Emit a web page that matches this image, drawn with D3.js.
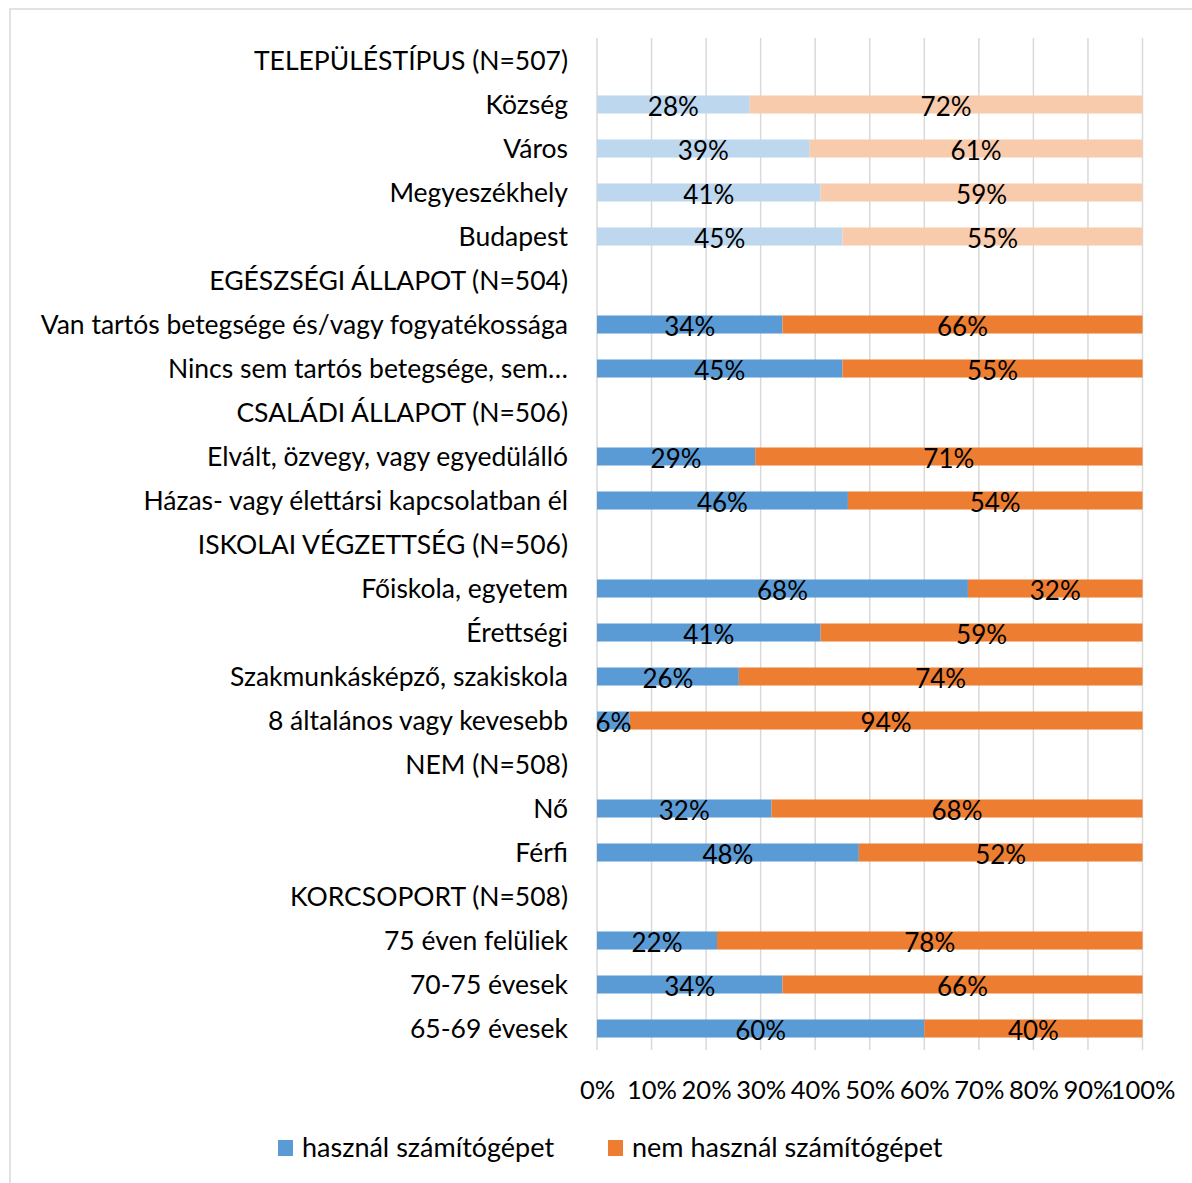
<!DOCTYPE html>
<html><head><meta charset="utf-8">
<script src="https://cdn.jsdelivr.net/npm/d3@7"></script>
<style>body{margin:0;background:#fff}svg{display:block;font-family:Lato,"Open Sans",sans-serif}</style>
</head><body><svg id="c" width="1192" height="1183"></svg>
<script>
const categories = ["TELEPÜLÉSTÍPUS (N=507)","Község","Város","Megyeszékhely","Budapest",
"EGÉSZSÉGI ÁLLAPOT (N=504)","Van tartós betegsége és/vagy fogyatékossága","Nincs sem tartós betegsége, sem…",
"CSALÁDI ÁLLAPOT (N=506)","Elvált, özvegy, vagy egyedülálló","Házas- vagy élettársi kapcsolatban él",
"ISKOLAI VÉGZETTSÉG (N=506)","Főiskola, egyetem","Érettségi","Szakmunkásképző, szakiskola","8 általános vagy kevesebb",
"NEM (N=508)","Nő","Férfi",
"KORCSOPORT (N=508)","75 éven felüliek","70-75 évesek","65-69 évesek"];
const uses =    [null,28,39,41,45,null,34,45,null,29,46,null,68,41,26,6,null,32,48,null,22,34,60];
const notUses = [null,72,61,59,55,null,66,55,null,71,54,null,32,59,74,94,null,68,52,null,78,66,40];
const lightRows = [1,2,3,4];
const tickValues = [0,10,20,30,40,50,60,70,80,90,100];
const seriesNames = ["használ számítógépet","nem használ számítógépet"];

const svg = d3.select("#c");
svg.append("rect").attr("x",10).attr("y",9).attr("width",1200).attr("height",1200)
  .attr("fill","none").attr("stroke","#d9d9d9").attr("stroke-width",1.5);

const x = d3.scaleLinear().domain([0,100]).range([597,1142.5]);
const y = d3.scaleBand().domain(categories).range([38.5,1050.5]).paddingInner(0.59).paddingOuter(0.295);

// gridlines
svg.append("g").selectAll("line").data(tickValues).join("line")
  .attr("x1",d=>x(d)).attr("x2",d=>x(d)).attr("y1",38).attr("y2",1050)
  .attr("stroke","#d9d9d9").attr("stroke-width",1.5);

const rows = categories.map((c,i)=>({c,i,u:uses[i],n:notUses[i]})).filter(d=>d.u!==null);
const colU = d=>lightRows.includes(d.i)?"#bdd7ee":"#5b9bd5";
const colN = d=>lightRows.includes(d.i)?"#f8cbad":"#ed7d31";

const g = svg.append("g");
g.selectAll("rect.u").data(rows).join("rect").attr("class","u")
  .attr("x",x(0)).attr("y",d=>y(d.c)).attr("width",d=>x(d.u)-x(0)).attr("height",y.bandwidth()).attr("fill",colU);
g.selectAll("rect.n").data(rows).join("rect").attr("class","n")
  .attr("x",d=>x(d.u)).attr("y",d=>y(d.c)).attr("width",d=>x(100)-x(d.u)).attr("height",y.bandwidth()).attr("fill",colN);

g.selectAll("text.lu").data(rows).join("text")
  .attr("x",d=>x(d.u/2)).attr("y",d=>y(d.c)+y.bandwidth()/2+11).attr("text-anchor","middle")
  .attr("font-size",26).attr("fill","#000").text(d=>d.u+"%");
g.selectAll("text.ln").data(rows).join("text")
  .attr("x",d=>x(d.u+d.n/2)).attr("y",d=>y(d.c)+y.bandwidth()/2+11).attr("text-anchor","middle")
  .attr("font-size",26).attr("fill","#000").text(d=>d.n+"%");

// category labels
svg.append("g").selectAll("text").data(categories).join("text")
  .attr("x",568).attr("y",d=>y(d)+y.bandwidth()/2+9).attr("text-anchor","end")
  .attr("font-size",26.5).attr("fill","#000").text(d=>d);

// x axis tick labels
const ax = d3.axisBottom(x).tickValues(tickValues).tickFormat(d=>d+"%").tickSize(0);
const axg = svg.append("g").attr("transform","translate(0,1074)").call(ax);
axg.select(".domain").remove();
axg.selectAll("text").attr("font-size",25.5).attr("font-family","Lato, sans-serif").attr("fill","#000").attr("dy","0.85em");

// legend
const legendColors = ["#5b9bd5","#ed7d31"];
const legendX = [278,608];
const lg = svg.append("g").selectAll("g").data(seriesNames).join("g")
  .attr("transform",(d,i)=>`translate(${legendX[i]},1140)`);
lg.append("rect").attr("width",15).attr("height",16).attr("fill",(d,i)=>legendColors[i]);
lg.append("text").attr("x",24).attr("y",17).attr("font-size",27).attr("fill","#000").text(d=>d);
</script></body></html>
